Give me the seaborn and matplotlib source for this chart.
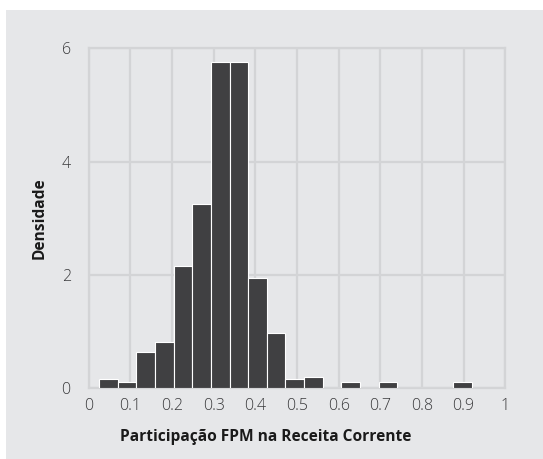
import numpy as np
import pandas as pd
import seaborn as sns
import matplotlib.pyplot as plt
from matplotlib.patches import Rectangle
from matplotlib.ticker import FormatStrFormatter

# histogram: 20 equal bins between min and max of the data
bin_start = 0.0245
bin_end = 0.92
n_bins = 20
densidade = [0.16, 0.11, 0.64, 0.82, 2.16, 3.25, 5.76, 5.76, 1.95, 0.98,
             0.16, 0.20, 0.0, 0.11, 0.0, 0.11, 0.0, 0.0, 0.0, 0.11]

x_ticks = [0, 0.1, 0.2, 0.3, 0.4, 0.5, 0.6, 0.7, 0.8, 0.9, 1]
y_ticks = [0, 2, 4, 6]

bg = '#e6e7e9'
grid_col = '#d3d4d6'
bar_col = '#404042'

edges = np.linspace(bin_start, bin_end, n_bins + 1)
centers = (edges[:-1] + edges[1:]) / 2
df = pd.DataFrame({'fpm': centers, 'dens': densidade})

sns.set_theme(style='whitegrid')
plt.rcParams['font.family'] = ['Open Sans', 'DejaVu Sans']

fig = plt.figure(figsize=(5.43, 4.59), dpi=100, facecolor='white')
fig.patches.append(Rectangle((6 / 543, 0), 1, 1 - 10 / 459, transform=fig.transFigure,
                             facecolor=bg, edgecolor='none', zorder=-10))
ax = fig.add_axes([0.1635, 0.154, 0.767, 0.741])
ax.set_facecolor(bg)

sns.histplot(data=df, x='fpm', weights='dens', bins=list(edges), ax=ax, stat='count',
             color=bar_col, alpha=1, edgecolor='white', linewidth=0.8, zorder=3)

ax.set_xlim(0, 1)
ax.set_ylim(0, 6)
ax.set_xticks(x_ticks)
ax.set_yticks(y_ticks)
ax.xaxis.set_major_formatter(FormatStrFormatter('%g'))
ax.grid(True, color=grid_col, linewidth=1.6)
ax.set_axisbelow(True)
for s in ax.spines.values():
    s.set_visible(True)
    s.set_color(grid_col)
    s.set_linewidth(1.6)
    s.set_zorder(1)

ax.tick_params(axis='both', length=0, labelsize=11.5, labelcolor='#3a3a3c')
ax.tick_params(axis='x', pad=7)
ax.tick_params(axis='y', pad=13)
for lab in ax.get_xticklabels() + ax.get_yticklabels():
    lab.set_fontweight('light')

ax.set_xlabel('Participação FPM na Receita Corrente', fontsize=11.2, fontweight='bold',
              color='#1a1a1a')
ax.set_ylabel('Densidade', fontsize=11.2, fontweight='bold', color='#1a1a1a')
ax.xaxis.set_label_coords(0.425, -0.12)
ax.yaxis.set_label_coords(-0.1, 0.5)

fig.savefig('out.png', dpi=100, facecolor=fig.get_facecolor())
